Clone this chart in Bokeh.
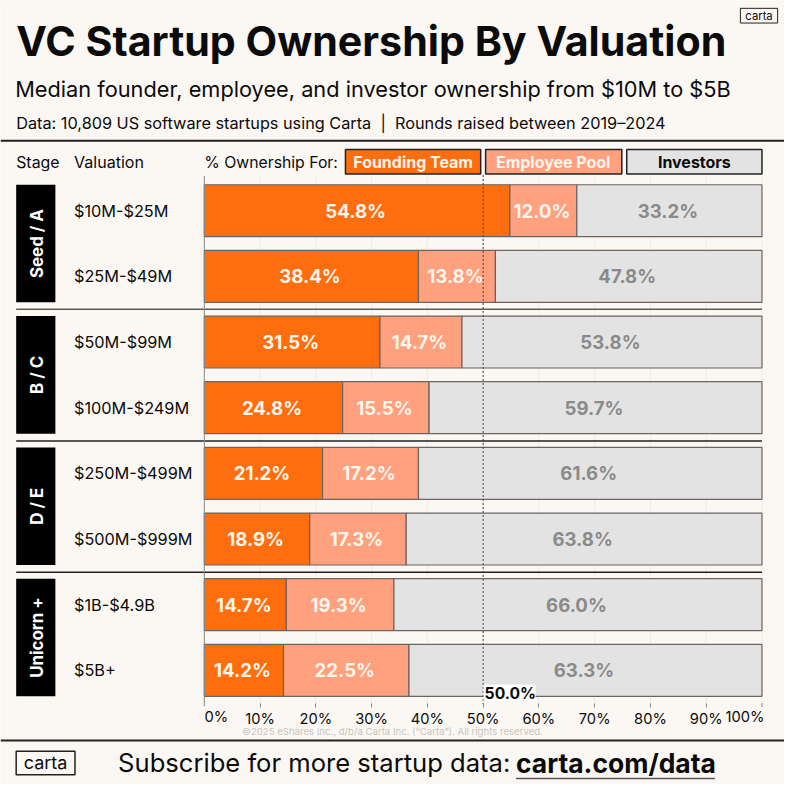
from bokeh.plotting import figure
from bokeh.models import Range1d, FixedTicker
from bokeh.core.properties import value
from bokeh.embed import file_html
from bokeh.resources import INLINE

rows = ["$10M-$25M", "$25M-$49M", "$50M-$99M", "$100M-$249M",
        "$250M-$499M", "$500M-$999M", "$1B-$4.9B", "$5B+"]
founders = [54.8, 38.4, 31.5, 24.8, 21.2, 18.9, 14.7, 14.2]
employees = [12.0, 13.8, 14.7, 15.5, 17.2, 17.3, 19.3, 22.5]
investors = [33.2, 47.8, 53.8, 59.7, 61.6, 63.8, 66.0, 63.3]
stages = ["Seed / A", "B / C", "D / E", "Unicorn +"]
stage_first = [0, 2, 4, 6]
ticks = [0, 10, 20, 30, 40, 50, 60, 70, 80, 90, 100]
tick_labels = ["0%", "10%", "20%", "30%", "40%", "50%", "60%", "70%", "80%", "90%", "100%"]

BG = "#FBF8F3"; INK = "#0B0B0B"; ORANGE = "#FF6E0E"; PEACH = "#FFA07F"; GREY = "#E3E3E3"
FONT = value("Inter")
S = 0.98  # figure px per reference px

PXX = 5.69; PXY = 67.0; X0 = 208.0; Y0 = 214.5
X = lambda px: (px - X0) / PXX
Y = lambda py: (py - Y0) / PXY
fs = lambda size: f"{size * S:.2f}px"

p = figure(width=784, height=784, output_backend="svg", toolbar_location=None,
           x_range=Range1d(X(0), X(800)), y_range=Range1d(Y(800), Y(0)),
           background_fill_color=BG, border_fill_color=BG,
           min_border=0, min_border_left=0, min_border_right=0, min_border_top=0, min_border_bottom=0,
           outline_line_color=None)
p.yaxis.visible = False; p.grid.visible = False

def txt(px, py, s, size, color=INK, weight="normal", align="left", angle=0):
    p.text([X(px)], [Y(py)], text=[s], text_font=FONT, text_font_size=fs(size), text_color=color,
           text_font_style=weight, text_align=align, text_baseline="middle", angle=angle)

def box(x0, y0, x1, y1, fill, line=None, lw=1):
    p.quad(left=[X(x0)], right=[X(x1)], top=[Y(y0)], bottom=[Y(y1)], fill_color=fill,
           line_color=line, line_width=lw)

def hline(x0, x1, py, color=INK, lw=1.5):
    p.segment([X(x0)], [Y(py)], [X(x1)], [Y(py)], line_color=color, line_width=lw)

# faint gridlines
p.segment(ticks, [Y(180)] * 11, ticks, [Y(718)] * 11, line_color="#EFEBE4", line_width=1)

# bars
ys = list(range(len(rows)))
end1 = founders
end2 = [a + b for a, b in zip(founders, employees)]
end3 = [a + b for a, b in zip(end2, investors)]
h = 53 / PXY
BAR = "#6B6460"
p.hbar(y=ys, left=[0] * 8, right=end1, height=h, fill_color=ORANGE, line_color=BAR, line_width=1.2)
p.hbar(y=ys, left=end1, right=end2, height=h, fill_color=PEACH, line_color=BAR, line_width=1.2)
p.hbar(y=ys, left=end2, right=end3, height=h, fill_color=GREY, line_color=BAR, line_width=1.2)

LBL = "#FFF6EC"
def bar_text(left, right, vals, color):
    p.text([(a + b) / 2 for a, b in zip(left, right)], ys, text=[f"{v:.1f}%" for v in vals],
           text_font=FONT, text_font_size=fs(19), text_font_style="bold", text_color=color,
           text_align="center", text_baseline="middle", x_offset=-1.5)
bar_text([0] * 8, end1, founders, LBL)
bar_text(end1, end2, employees, LBL)
bar_text(end2, end3, investors, "#8A8A8A")

# row labels
p.text([X(75)] * 8, ys, text=rows, text_font=FONT, text_font_size=fs(16.6), text_color=INK,
       text_align="left", text_baseline="middle")

# stage blocks
for s, f in zip(stages, stage_first):
    p.quad(left=[X(16)], right=[X(56)], top=[f - h / 2], bottom=[f + 1 + h / 2], fill_color="#000000", line_color=None)
    p.text([X(37)], [f + .5], text=[s], text_font=FONT, text_font_size=fs(17.2), text_font_style="bold",
           text_color="#FFFFFF", text_align="center", text_baseline="middle", angle=1.5708)

# group separators
for py, col in zip((315, 449.5, 583.5), ("#5E5856", "#222222", "#222222")):
    hline(16, 777, py, col, 1.5)

# axis
p.segment([0], [Y(179)], [0], [Y(720)], line_color="#8A8A8A", line_width=1)
ax = p.xaxis[0]
ax.fixed_location = Y(717)
ax.ticker = FixedTicker(ticks=ticks[1:-1])
ax.major_label_overrides = {t: l for t, l in zip(ticks[1:-1], tick_labels[1:-1])}
ax.axis_line_color = None
ax.major_tick_line_color = "#8A8A8A"
ax.major_tick_out = 4
ax.major_tick_in = 0
ax.minor_tick_line_color = None
ax.major_label_text_font = "Inter"
ax.major_label_text_font_size = fs(15)
ax.major_label_text_color = INK
ax.major_label_standoff = 3
p.segment([100], [Y(717)], [100], [Y(721)], line_color="#8A8A8A", line_width=1)
p.text([ticks[0], ticks[-1]], [Y(731)] * 2, text=[tick_labels[0], tick_labels[-1]], text_font=FONT,
       text_font_size=fs(15), text_color=INK, text_align="center", text_baseline="middle",
       x_offset=[12, -17])

# 50% marker
r50 = p.segment([50], [Y(178)], [50], [Y(718)], line_color="#444444", line_width=1)
r50.glyph.line_dash = [2, 2]
box(493, 698, 546, 715, "#FFFFFF")
txt(494, 707, "50.0%", 16, weight="bold")

# title block
txt(16, 41, "VC Startup Ownership By Valuation", 42, weight="bold")
txt(15, 90, "Median founder, employee, and investor ownership from $10M to $5B", 22.2)
txt(16, 125, "Data: 10,809 US software startups using Carta\u00a0 |\u00a0 Rounds raised between 2019\u20132024", 16.6)
hline(0, 800, 143, "#222222", 2)
box(755, 8, 793, 23, BG, "#222222", 1)
txt(774, 15.5, "carta", 11.5, align="center")

# legend / header
txt(16, 165, "Stage", 16.2)
txt(75, 165, "Valuation", 16.4)
txt(208, 165, "% Ownership For:", 16.1)
box(352, 152, 490, 177, ORANGE, "#222222", 1.5)
txt(421, 165, "Founding Team", 16.3, LBL, "bold", "center")
box(495, 152, 634, 177, PEACH, "#222222", 1.5)
txt(564, 165, "Employee Pool", 16.3, LBL, "bold", "center")
box(639, 152, 777, 177, GREY, "#222222", 1.5)
txt(708, 165, "Investors", 16.3, INK, "bold", "center")

# footer
txt(400, 746, "\u00a92025 eShares Inc., d/b/a Carta Inc. (\u201cCarta\u201d). All rights reserved.", 9.8, "#C8C5BF", align="center")
hline(0, 800, 755, "#222222", 2)
box(16, 766, 76, 790, BG, "#222222", 1.5)
txt(46, 778, "carta", 18.3, align="center")
txt(120, 778, "Subscribe for more startup data:", 26.1)
txt(526, 778, "carta.com/data", 27, weight="bold")
hline(526, 729, 794, "#555555", 1.5)

open("out.html", "w").write(file_html(p, INLINE))
